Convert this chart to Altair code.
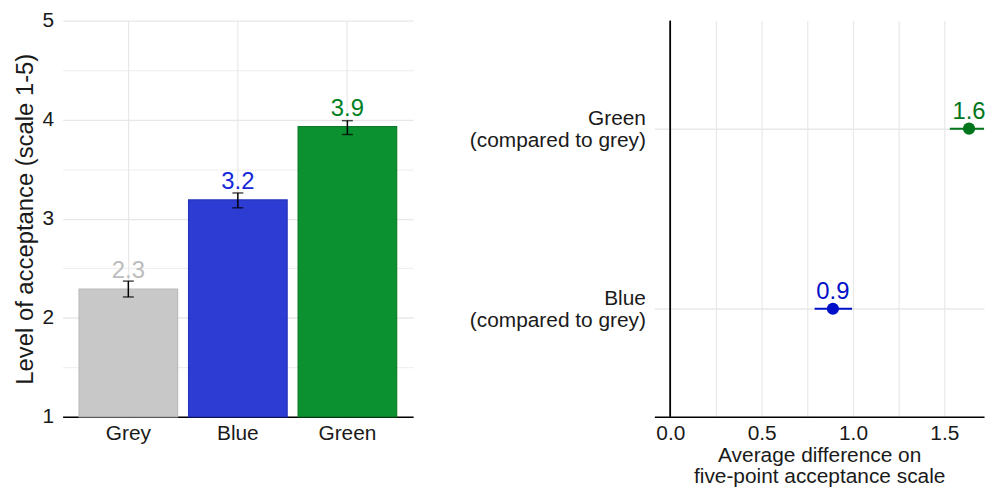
import altair as alt
import pandas as pd

# ---- data: left panel (mean acceptance per colour) ----
categories = ["Grey", "Blue", "Green"]
means = [2.29, 3.19, 3.93]
ci_low = [2.21, 3.11, 3.85]
ci_high = [2.37, 3.26, 3.99]
bar_fill = ["#c6c6c6", "#2233d1", "#008c27"]
bar_stroke = ["#b8b8b8", "#1a28b8", "#00761f"]
label_color = ["#bcbcbc", "#1428d8", "#00801f"]

# ---- data: right panel (difference compared to grey) ----
comparisons = ["Green\n(compared to grey)", "Blue\n(compared to grey)"]
diffs = [1.635, 0.89]
diff_low = [1.53, 0.79]
diff_high = [1.745, 0.995]
diff_color = ["#00761c", "#0010c8"]

FONT = "Liberation Sans"

left_df = pd.DataFrame({
    "cat": categories, "mean": means, "lo": ci_low, "hi": ci_high,
    "fill": bar_fill, "stroke": bar_stroke, "lcol": label_color,
})
right_df = pd.DataFrame({
    "comp": comparisons, "diff": diffs, "lo": diff_low, "hi": diff_high,
    "col": diff_color,
})

# ---------------- left chart ----------------
xL = alt.X("cat:N", sort=categories,
           scale=alt.Scale(paddingInner=0.1, paddingOuter=0.15),
           axis=alt.Axis(title=None, labelAngle=0, domain=True, domainColor="#000000",
                         domainWidth=1.5, ticks=False, tickSize=0, labelPadding=6,
                         grid=True, bandPosition=0.5, gridColor="#e8e8e8", gridWidth=1.2))
yScale = alt.Scale(domain=[1, 5], nice=False, zero=False)
yL = alt.Y("mean:Q", scale=yScale,
           axis=alt.Axis(title="Level of acceptance (scale 1-5)",
                         values=[1, 1.5, 2, 2.5, 3, 3.5, 4, 4.5, 5],
                         labelExpr="datum.value % 1 == 0 ? format(datum.value, 'd') : ''",
                         domain=False, ticks=False, tickSize=0, labelPadding=9,
                         titlePadding=5, titleFontSize=24,
                         gridColor="#e8e8e8",
                         gridWidth={"condition": {"test": "datum.value % 1 != 0", "value": 0.8},
                                    "value": 1.3}))

bars = alt.Chart(left_df).mark_bar(strokeWidth=1.2, opacity=0.95).encode(
    x=xL, y=yL, y2=alt.datum(1),
    fill=alt.Fill("fill:N", scale=None),
    stroke=alt.Stroke("stroke:N", scale=None),
)
err = alt.Chart(left_df).mark_rule(color="black", strokeWidth=1.5).encode(
    x=alt.X("cat:N", sort=categories), y=alt.Y("lo:Q", scale=yScale), y2="hi:Q")
cap_lo = alt.Chart(left_df).mark_tick(color="black", size=11, thickness=1.5).encode(
    x=alt.X("cat:N", sort=categories), y=alt.Y("lo:Q", scale=yScale))
cap_hi = alt.Chart(left_df).mark_tick(color="black", size=11, thickness=1.5).encode(
    x=alt.X("cat:N", sort=categories), y=alt.Y("hi:Q", scale=yScale))
lab = alt.Chart(left_df).mark_text(fontSize=24, font=FONT, dy=-18, baseline="middle").encode(
    x=alt.X("cat:N", sort=categories), y=alt.Y("mean:Q", scale=yScale),
    text=alt.Text("mean:Q", format=".1f"),
    color=alt.Color("lcol:N", scale=None))

left = alt.layer(bars, err, cap_lo, cap_hi, lab).properties(width=353, height=399)

# ---------------- right chart ----------------
xScale = alt.Scale(domain=[-0.087, 1.717], nice=False, zero=False)
xR = alt.X("diff:Q", scale=xScale,
           axis=alt.Axis(title=["Average difference on", "five-point acceptance scale"],
                         values=[0, 0.25, 0.5, 0.75, 1, 1.25, 1.5],
                         labelExpr="datum.value % 0.5 == 0 ? format(datum.value, '.1f') : ''",
                         domain=True, domainColor="#000000", domainWidth=1.5,
                         ticks=False, tickSize=0, labelPadding=6, titlePadding=1,
                         titleLineHeight=21, gridColor="#e8e8e8", gridWidth=1.2))
yR = alt.Y("comp:N", sort=comparisons, scale=alt.Scale(type="point", padding=0.6),
           axis=alt.Axis(title=None, domain=False, ticks=False, tickSize=0,
                         labelPadding=9, labelLineHeight=22, labelAlign="right",
                         labelOffset=-10,
                         labelExpr="split(datum.label, '\\n')",
                         grid=True, gridColor="#e8e8e8", gridWidth=1.5))

vline = alt.Chart(right_df).mark_rule(color="black", strokeWidth=1.5).encode(
    x=alt.datum(0, scale=xScale))
ci = alt.Chart(right_df).mark_rule(strokeWidth=2, clip=True).encode(
    x=alt.X("lo:Q", scale=xScale), x2="hi:Q",
    y=alt.Y("comp:N", sort=comparisons),
    color=alt.Color("col:N", scale=None))
pts = alt.Chart(right_df).mark_circle(size=150, opacity=1).encode(
    x=xR, y=yR, color=alt.Color("col:N", scale=None))
rlab = alt.Chart(right_df).mark_text(fontSize=24, font=FONT, dy=-17, baseline="middle").encode(
    x=alt.X("diff:Q", scale=xScale), y=alt.Y("comp:N", sort=comparisons),
    text=alt.Text("diff:Q", format=".1f"),
    color=alt.Color("col:N", scale=None))

right = alt.layer(pts, vline, ci, rlab).properties(width=332, height=399)

chart = alt.hconcat(left, right, spacing=56).properties(
    padding={"left": 5, "top": 0, "right": 0, "bottom": 0},
    background="white",
).configure_view(stroke=None).configure_axis(
    labelFont=FONT, titleFont=FONT, labelFontSize=21, titleFontSize=21,
    labelColor="#1a1a1a", titleColor="#1a1a1a", titleFontWeight="normal",
)

chart.save("out.html", embed_options={"renderer": "svg", "actions": False})
